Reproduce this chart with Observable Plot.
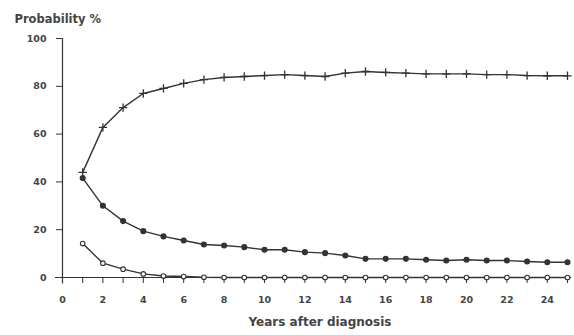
<!DOCTYPE html>
<html>
<head>
<meta charset="utf-8">
<script src="https://cdn.jsdelivr.net/npm/d3@7"></script>
<script src="https://cdn.jsdelivr.net/npm/@observablehq/plot@0.6"></script>
<style>
  html, body { margin: 0; padding: 0; background: #fff; }
</style>
</head>
<body>
<div id="chart"></div>
<script>
const years = d3.range(1, 26);
const seriesA = [44, 62.8, 71.1, 77, 79.1, 81.2, 82.8, 83.7, 84.1, 84.5, 84.9, 84.5, 84.1, 85.5, 86.2, 85.8, 85.5, 85.2, 85.2, 85.2, 84.9, 84.9, 84.5, 84.4, 84.4];
const seriesB = [41.6, 30, 23.6, 19.4, 17.2, 15.5, 13.8, 13.4, 12.7, 11.6, 11.6, 10.6, 10.2, 9.2, 7.8, 7.8, 7.8, 7.4, 7.1, 7.4, 7.1, 7.1, 6.7, 6.4, 6.4];
const seriesC = [14.2, 6, 3.5, 1.5, 0.6, 0.4, 0.1, 0, 0, 0, 0, 0, 0, 0, 0, 0, 0, 0, 0, 0, 0, 0, 0, 0, 0];
const xTicks = d3.range(0, 26);
const yTicks = [0, 20, 40, 60, 80, 100];

const A = years.map((x, i) => ({x, y: seriesA[i]}));
const B = years.map((x, i) => ({x, y: seriesB[i]}));
const C = years.map((x, i) => ({x, y: seriesC[i]}));

const ink = "#333";

const chart = Plot.plot({
  width: 574,
  height: 335,
  marginLeft: 62,
  marginRight: 7,
  marginTop: 38,
  marginBottom: 58,
  x: {domain: [0, 25]},
  y: {domain: [0, 100]},
  style: {fontFamily: "DejaVu Sans", fontWeight: "bold", fontSize: "9.5px", color: "#444", background: "#fff"},
  marks: [
    Plot.axisX({ticks: xTicks, tickFormat: d => d % 2 === 0 ? d : "", tickSize: 6, tickPadding: 13, label: null, stroke: ink}),
    Plot.axisY({ticks: yTicks, tickSize: 6, tickPadding: 10, label: null, stroke: ink}),
    Plot.ruleY([0], {x1: -0.35, x2: 25.2, stroke: ink, strokeWidth: 1.2}),
    Plot.ruleX([0], {y1: -2.7, y2: 100, stroke: ink, strokeWidth: 1.2}),
    Plot.line(A, {x: "x", y: "y", stroke: ink, strokeWidth: 1.4}),
    Plot.line(B, {x: "x", y: "y", stroke: ink, strokeWidth: 1.4}),
    Plot.line(C, {x: "x", y: "y", stroke: ink, strokeWidth: 1.4}),
    Plot.dot(A, {x: "x", y: "y", symbol: "plus", r: 2.8, stroke: ink, strokeWidth: 1.3}),
    Plot.dot(B, {x: "x", y: "y", r: 2.3, fill: ink, stroke: ink}),
    Plot.dot(C, {x: "x", y: "y", r: 2.3, fill: "#fff", stroke: ink, strokeWidth: 1.1}),
    Plot.text(["Probability %"], {frameAnchor: "top-left", dx: -48, dy: -24, textAnchor: "start", fontSize: 11.5, fill: "#444"}),
    Plot.text(["Years after diagnosis"], {frameAnchor: "bottom", dx: 5, dy: 48, fontSize: 12, fill: "#444"})
  ]
});
document.getElementById("chart").append(chart);
</script>
</body>
</html>
